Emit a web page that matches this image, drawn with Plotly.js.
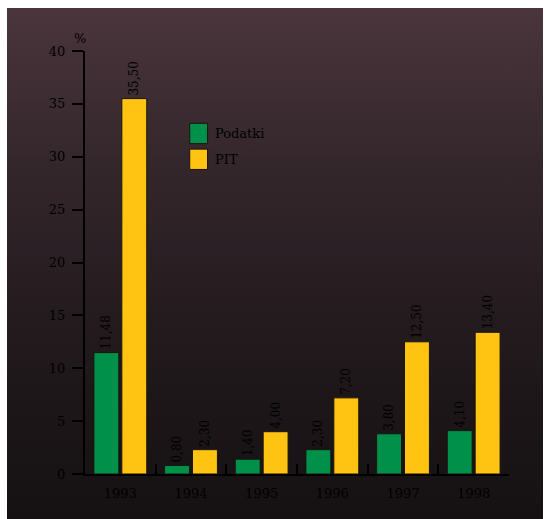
<!DOCTYPE html>
<html>
<head>
<meta charset="utf-8">
<script src="https://cdn.plot.ly/plotly-3.0.1.min.js"></script>
<style>
  html, body { margin: 0; padding: 0; background: #ffffff; }
  #wrap { position: relative; width: 544px; height: 519px; overflow: hidden; }
  #panel {
    position: absolute; left: 7px; top: 8px; right: 1px; bottom: 0;
    background: linear-gradient(to bottom, #4a353c 0%, #34272c 30%, #241b1f 60%, #1b1517 82%, #151113 100%);
  }
  #chart { position: absolute; left: 0; top: 0; width: 544px; height: 519px; }
</style>
</head>
<body>
<div id="wrap">
  <div id="panel"></div>
  <div id="chart"></div>
</div>
<script>
// Years and the two series (percent)
const years = ['1993', '1994', '1995', '1996', '1997', '1998'];
const podatki = [11.48, 0.80, 1.40, 2.30, 3.80, 4.10];
const pit = [35.50, 2.30, 4.00, 7.20, 12.50, 13.40];
const seriesNames = ['Podatki', 'PIT'];
const seriesColors = ['#00904a', '#ffc412'];
const yTicks = [0, 5, 10, 15, 20, 25, 30, 35, 40];

const fmt = v => v.toFixed(2).replace('.', ',');
const FONT = 'DejaVu Serif, serif';
const INK = '#000000';

function barTrace(name, values, color) {
  return {
    type: 'bar',
    name: name,
    x: years,
    y: values,
    text: values.map(fmt),
    textposition: 'outside',
    textangle: -90,
    constraintext: 'none',
    cliponaxis: false,
    textfont: { family: FONT, size: 12, color: INK },
    marker: { color: color, line: { color: '#1a1410', width: 1 } },
    hoverinfo: 'skip'
  };
}

const data = [
  barTrace(seriesNames[0], podatki, seriesColors[0]),
  barTrace(seriesNames[1], pit, seriesColors[1])
];

// Legend drawn as paper-space swatches with labels
const legendShapes = [];
const legendNotes = [];
seriesNames.forEach((name, i) => {
  const top = 0.829 - i * 0.061;
  legendShapes.push({
    type: 'rect', xref: 'paper', yref: 'paper',
    x0: 0.247, x1: 0.289, y0: top - 0.048, y1: top,
    fillcolor: seriesColors[i], line: { color: '#1a1410', width: 1 }
  });
  legendNotes.push({
    text: name, xref: 'paper', yref: 'paper',
    x: 0.303, y: top - 0.024, xanchor: 'left', yanchor: 'middle',
    showarrow: false, font: { family: FONT, size: 13, color: INK }
  });
});

const layout = {
  width: 544,
  height: 519,
  margin: { l: 85, r: 35, t: 51, b: 45 },
  paper_bgcolor: 'rgba(0,0,0,0)',
  plot_bgcolor: 'rgba(0,0,0,0)',
  barmode: 'group',
  bargap: 0.21,
  bargroupgap: 0.107,
  showlegend: false,
  xaxis: {
    type: 'category',
    showline: true, linecolor: '#000', linewidth: 2,
    ticks: 'inside', tickson: 'boundaries', ticklen: 10, tickwidth: 2, tickcolor: '#000',
    ticklabelstandoff: 6,
    tickfont: { family: FONT, size: 13, color: INK },
    showgrid: false, zeroline: false, fixedrange: true
  },
  yaxis: {
    range: [0, 40],
    tickvals: yTicks,
    ticktext: yTicks.map(String),
    showline: true, linecolor: '#000', linewidth: 2,
    ticks: 'outside', ticklen: 11, tickwidth: 2, tickcolor: '#000',
    ticklabelstandoff: 4,
    tickfont: { family: FONT, size: 13, color: INK },
    showgrid: false, zeroline: false, fixedrange: true
  },
  shapes: legendShapes,
  annotations: [{
    text: '%', xref: 'paper', yref: 'paper', x: -0.012, y: 1.0,
    xanchor: 'center', yanchor: 'bottom', yshift: 3, showarrow: false,
    font: { family: FONT, size: 13, color: INK }
  }].concat(legendNotes)
};

Plotly.newPlot('chart', data, layout, { displayModeBar: false, staticPlot: true });
</script>
</body>
</html>
